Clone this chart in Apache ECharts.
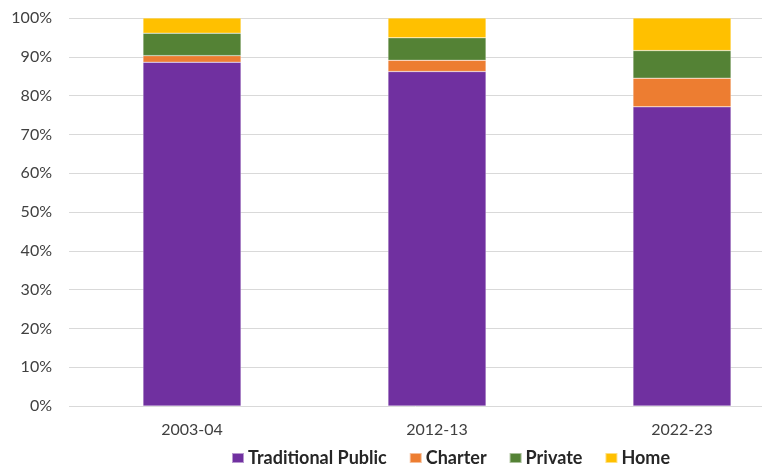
<!DOCTYPE html>
<html><head><meta charset="utf-8">
<script src="https://cdn.jsdelivr.net/npm/echarts@6/dist/echarts.min.js"></script>
<style>html,body{margin:0;padding:0;background:#fff}#c{width:767px;height:467px}</style>
</head><body><div id="c"></div>
<script>
var categories = ['2003-04', '2012-13', '2022-23'];
var traditionalPublic = [88.6, 86.2, 77.1];
var charter = [1.7, 2.9, 7.4];
var privateSchool = [5.8, 5.8, 7.1];
var home = [3.9, 5.1, 8.4];
var yTicks = [0, 10, 20, 30, 40, 50, 60, 70, 80, 90, 100];

var colors = ['#7030A0', '#ED7D31', '#548235', '#FFC000'];
var font = 'Lato, "Open Sans", sans-serif';
function mk(name, data, color) {
  return {name: name, type: 'bar', stack: 's', xAxisIndex: 1, yAxisIndex: 1, data: data,
    barWidth: 98, itemStyle: {color: color, borderColor: 'rgba(255,255,255,0.5)', borderWidth: 0.5}};
}
var chart = echarts.init(document.getElementById('c'));
chart.setOption({
  animation: false,
  grid: [
    {left: 69, right: 5, top: 18, bottom: 61, outerBoundsMode: 'none'},
    {left: 69.5, width: 735, top: 18, bottom: 61, outerBoundsMode: 'none'}
  ],
  xAxis: [
    {gridIndex: 0, type: 'category', data: categories, show: false},
    {gridIndex: 1, type: 'category', data: categories,
      axisLine: {show: false}, axisTick: {show: false},
      axisLabel: {color: '#404040', fontSize: 16, fontFamily: font, margin: 16}}
  ],
  yAxis: [
    {gridIndex: 0, type: 'value', min: yTicks[0], max: yTicks[yTicks.length - 1], interval: 10,
      axisLine: {show: false}, axisTick: {show: false},
      splitLine: {lineStyle: {color: '#d9d9d9', width: 1}},
      axisLabel: {color: '#404040', fontSize: 16, fontFamily: font, margin: 17, formatter: '{value}%'}},
    {gridIndex: 1, type: 'value', min: 0, max: 100, interval: 10, show: false, splitLine: {show: false}}
  ],
  legend: {
    top: 444, left: 226, itemWidth: 12, itemHeight: 10, itemGap: 22, icon: 'rect',
    textStyle: {color: '#262626', fontSize: 18, fontFamily: font, fontWeight: 'bold', padding: [0, 0, 0, -1]},
    data: ['Traditional Public', 'Charter', 'Private', 'Home']
  },
  series: [
    mk('Traditional Public', traditionalPublic, colors[0]),
    mk('Charter', charter, colors[1]),
    mk('Private', privateSchool, colors[2]),
    mk('Home', home, colors[3])
  ]
});
</script></body></html>
